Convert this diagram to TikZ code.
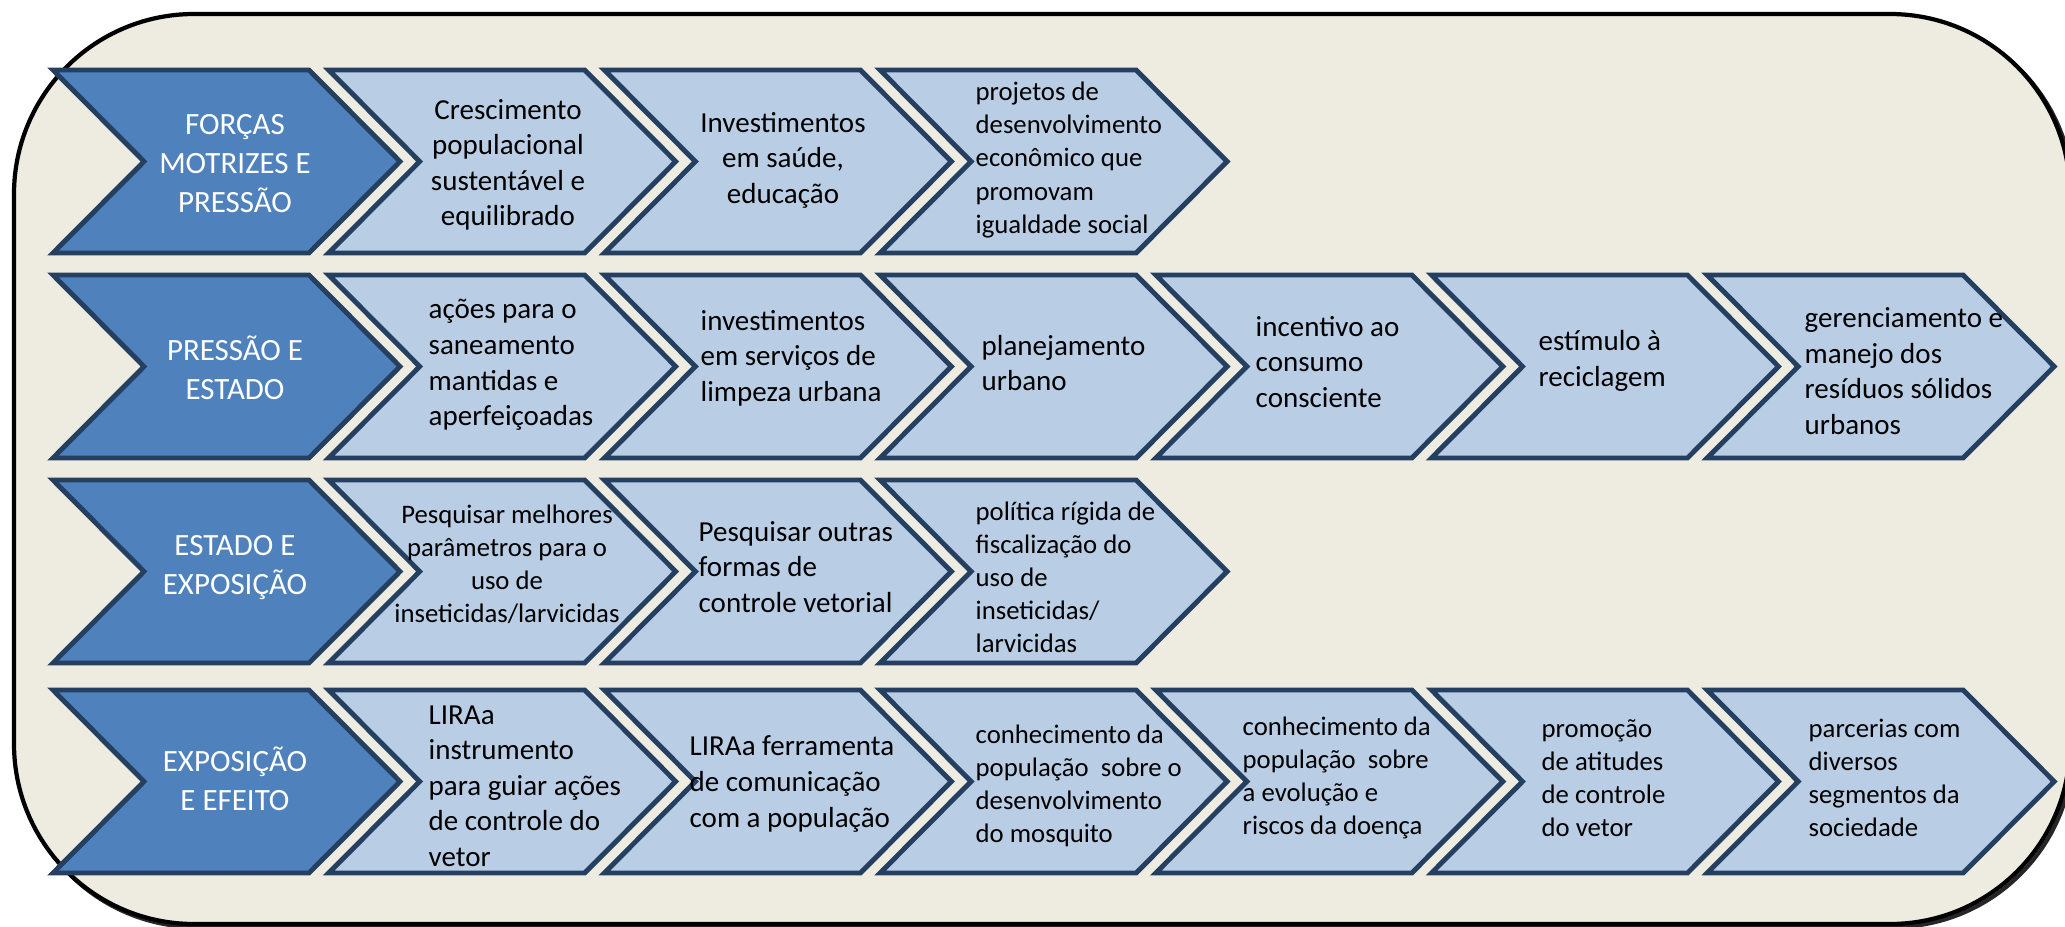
\documentclass[tikz,border=0pt]{standalone}
\usepackage{fontspec}
\setmainfont{Carlito}
\definecolor{paper}{HTML}{EEECE1}
\definecolor{headblue}{HTML}{4F81BD}
\definecolor{stepblue}{HTML}{B9CDE5}
\definecolor{edgeblue}{HTML}{243F60}

\begin{document}
\begin{tikzpicture}[x=0.01cm,y=-0.01cm,
  chev/.style={draw=edgeblue,line width=1.4pt},
  headtxt/.style={text=white,align=center,inner sep=0pt,font=\fontsize{8.8}{11.1}\selectfont},
  midtxt/.style={align=center,inner sep=0pt,font=\fontsize{8.25}{10.1}\selectfont},
  lefttxt/.style={anchor=west,align=left,inner sep=0pt,font=\fontsize{8.25}{10.1}\selectfont},
  smalltxt/.style={font=\fontsize{7.6}{9.4}\selectfont}]

\useasboundingbox (0,0) rectangle (2065,927);

% Rounded frame with its shadow
\draw[line width=1.2pt,black!85,rounded corners=1.8cm] (17,17) rectangle (2073,927);
\draw[fill=paper,line width=1.2pt,rounded corners=1.8cm] (14,14) rectangle (2070,924);

% Head chevrons
\foreach \y in {70,275,480,690}
  \draw[chev,fill=headblue] (53,\y) -- ++(256,0) -- ++(91,91.5) -- ++(-91,91.5) -- ++(-256,0) -- ++(91,-91.5) -- cycle;

% Step chevrons, 4 or 7 per row
\foreach \y/\n in {70/4,275/7,480/4,690/7}
  \foreach \k in {2,...,\n} {
    \pgfmathsetmacro\lx{53+275.7*(\k-1)}
    \draw[chev,fill=stepblue] (\lx,\y) -- ++(256,0) -- ++(91,91.5) -- ++(-91,91.5) -- ++(-256,0) -- ++(91,-91.5) -- cycle;
  }

% Row 1
\node[headtxt] (forcas) at (235,164) {FORÇAS\\MOTRIZES E\\PRESSÃO};
\node[midtxt] (cresc) at (508,165) {Crescimento\\populacional\\sustentável e\\equilibrado};
\node[midtxt] (invest) at (783,160) {Investimentos\\em saúde,\\educação};
\node[lefttxt,smalltxt] (projetos) at (975,160) {projetos de\\desenvolvimento\\econômico que\\promovam\\igualdade social};

% Row 2
\node[headtxt] (presest) at (235,368) {PRESSÃO E\\ESTADO};
\node[lefttxt] (acoes) at (428,365) {ações para o\\saneamento\\mantidas e\\aperfeiçoadas};
\node[lefttxt] (limpeza) at (700,358) {investimentos\\em serviços de\\limpeza urbana};
\node[lefttxt] (planej) at (981,363) {planejamento\\urbano};
\node[lefttxt] (consumo) at (1255,362) {incentivo ao\\consumo\\consciente};
\node[lefttxt] (recicl) at (1538,361) {estímulo à\\reciclagem};
\node[lefttxt] (residuos) at (1804,371) {gerenciamento e\\manejo dos\\resíduos sólidos\\urbanos};

% Row 3
\node[headtxt] (estexp) at (235,568) {ESTADO E\\EXPOSIÇÃO};
\node[midtxt,smalltxt] (param) at (507,564) {Pesquisar melhores\\parâmetros para o\\uso de\\inseticidas/larvicidas};
\node[lefttxt] (outras) at (698,567) {Pesquisar outras\\formas de\\controle vetorial};
\node[lefttxt,smalltxt] (politica) at (975,577) {política rígida de\\fiscalização do\\uso de\\inseticidas/\\larvicidas};

% Row 4
\node[headtxt] (expef) at (235,779) {EXPOSIÇÃO\\E EFEITO};
\node[lefttxt] (liraa) at (428,786) {LIRAa\\instrumento\\para guiar ações\\de controle do\\vetor};
\node[lefttxt] (ferram) at (689,784) {LIRAa ferramenta\\de comunicação\\com a população};
\node[lefttxt,smalltxt] (mosq) at (975,786) {conhecimento da\\população\ \ sobre o\\desenvolvimento\\do mosquito};
\node[lefttxt,smalltxt] (doenca) at (1242,778) {conhecimento da\\população\ \ sobre\\a evolução e\\riscos da doença};
\node[lefttxt,smalltxt] (atitudes) at (1541,778) {promoção\\de atitudes\\de controle\\do vetor};
\node[lefttxt,smalltxt] (parcerias) at (1808,778) {parcerias com\\diversos\\segmentos da\\sociedade};

\end{tikzpicture}
\end{document}
